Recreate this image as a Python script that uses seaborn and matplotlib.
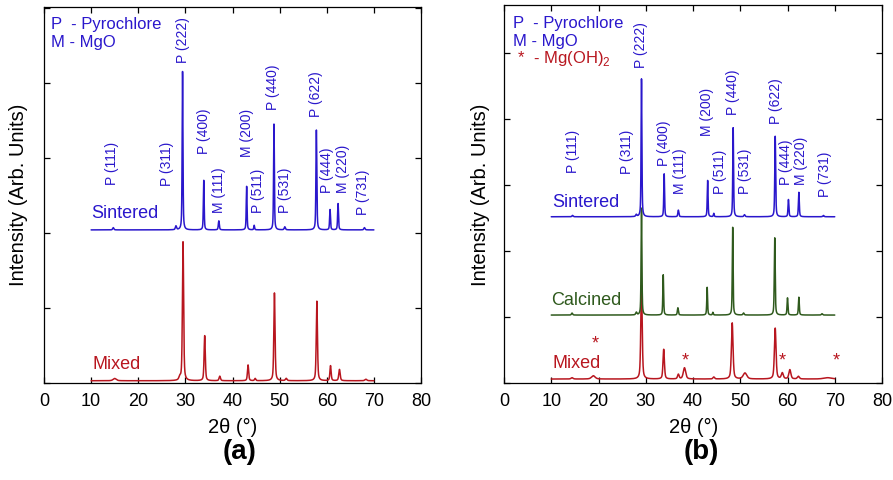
import numpy as np
import pandas as pd
import matplotlib
matplotlib.use("Agg")
import matplotlib.pyplot as plt
import seaborn as sns

# ---------------- data ----------------
two_theta_min, two_theta_max = 10, 70
x_ticks = [0, 10, 20, 30, 40, 50, 60, 70, 80]

# Panel (a) - Sintered
a_sint_base = 2.04
a_sint_pos = [14.7, 28.0, 29.4, 33.9, 37.1, 43.0, 44.6, 48.8, 51.1, 57.8, 60.7, 62.4, 68.0]
a_sint_hgt = [0.03, 0.05, 2.11, 0.66, 0.12, 0.58, 0.06, 1.41, 0.04, 1.33, 0.27, 0.35, 0.03]
a_sint_wid = [0.3, 0.3, 0.2, 0.2, 0.25, 0.2, 0.2, 0.2, 0.3, 0.22, 0.22, 0.22, 0.3]

# Panel (a) - Mixed
a_mix_base = 0.03
a_mix_pos = [15.0, 28.8, 29.5, 34.1, 37.3, 43.3, 44.8, 48.9, 51.4, 57.9, 60.8, 62.7, 68.3]
a_mix_hgt = [0.03, 0.04, 1.85, 0.60, 0.06, 0.21, 0.03, 1.17, 0.03, 1.06, 0.20, 0.15, 0.02]
a_mix_wid = [0.8, 0.4, 0.3, 0.3, 0.35, 0.3, 0.3, 0.3, 0.4, 0.3, 0.3, 0.35, 0.5]

# Panel (b) - Sintered
b_sint_base = 2.52
b_sint_pos = [14.5, 28.0, 29.1, 33.9, 36.9, 43.1, 44.4, 48.5, 50.9, 57.4, 60.2, 62.4, 67.6]
b_sint_hgt = [0.02, 0.03, 2.09, 0.65, 0.10, 0.55, 0.05, 1.35, 0.03, 1.22, 0.26, 0.37, 0.02]
b_sint_wid = [0.3, 0.3, 0.2, 0.2, 0.25, 0.2, 0.2, 0.2, 0.3, 0.22, 0.22, 0.22, 0.3]

# Panel (b) - Calcined
b_calc_base = 1.03
b_calc_pos = [14.4, 28.0, 29.1, 33.7, 36.8, 43.0, 44.2, 48.4, 50.7, 57.3, 60.0, 62.4, 67.3]
b_calc_hgt = [0.03, 0.04, 1.62, 0.61, 0.11, 0.42, 0.04, 1.33, 0.03, 1.17, 0.26, 0.27, 0.02]
b_calc_wid = [0.3, 0.3, 0.2, 0.2, 0.25, 0.2, 0.2, 0.2, 0.3, 0.22, 0.22, 0.22, 0.3]

# Panel (b) - Mixed
b_mix_base = 0.06
b_mix_pos = [14.4, 18.9, 29.1, 33.8, 36.9, 38.2, 44.4, 48.3, 51.0, 57.4, 58.9, 60.5, 62.3, 68.5]
b_mix_hgt = [0.02, 0.05, 1.42, 0.45, 0.07, 0.17, 0.03, 0.85, 0.09, 0.77, 0.09, 0.14, 0.04, 0.02]
b_mix_wid = [0.5, 0.9, 0.35, 0.35, 0.4, 0.6, 0.4, 0.4, 0.9, 0.4, 0.5, 0.5, 0.5, 2.0]

# Peak labels (hkl) : label, x position, y of label bottom
a_lab_text = ["P (111)", "P (311)", "P (222)", "P (400)", "M (111)", "M (200)", "P (511)",
              "P (440)", "P (531)", "P (622)", "P (444)", "M (220)", "P (731)"]
a_lab_x = [14.4, 26.0, 29.5, 33.9, 37.2, 43.0, 45.4, 48.5, 51.1, 57.8, 60.0, 63.5, 67.7]
a_lab_y = [2.64, 2.63, 4.26, 3.05, 2.27, 3.01, 2.27, 3.64, 2.27, 3.55, 2.53, 2.53, 2.24]

b_lab_text = a_lab_text
b_lab_x = [14.5, 26.0, 29.1, 33.9, 37.2, 43.0, 45.7, 48.5, 50.9, 57.5, 59.6, 62.9, 67.9]
b_lab_y = [3.18, 3.17, 4.77, 3.29, 2.87, 3.74, 2.87, 4.06, 2.87, 3.93, 3.00, 3.00, 2.82]

# Mg(OH)2 star markers in (b)
star_x = [19.4, 38.3, 58.9, 70.4]
star_y = [0.52, 0.26, 0.26, 0.26]

BLUE = "#2a17cc"
RED = "#b8161f"
GREEN = "#2f5a1d"

# ---------------- build patterns ----------------
tt = np.linspace(two_theta_min, two_theta_max, 6001)


def pattern(name, base, pos, hgt, wid):
    y = np.full_like(tt, base)
    for p, h, w in zip(pos, hgt, wid):
        d = (tt - p) / w
        y = y + h * (0.5 * np.exp(-4 * np.log(2) * d ** 2) + 0.5 / (1 + 4 * d ** 2))
    return pd.DataFrame({"two_theta": tt, "intensity": y, "sample": name})


df_a_sint = pattern("Sintered", a_sint_base, a_sint_pos, a_sint_hgt, a_sint_wid)
df_a_mix = pattern("Mixed", a_mix_base, a_mix_pos, a_mix_hgt, a_mix_wid)
df_b_sint = pattern("Sintered", b_sint_base, b_sint_pos, b_sint_hgt, b_sint_wid)
df_b_calc = pattern("Calcined", b_calc_base, b_calc_pos, b_calc_hgt, b_calc_wid)
df_b_mix = pattern("Mixed", b_mix_base, b_mix_pos, b_mix_hgt, b_mix_wid)

# ---------------- figure ----------------
sns.set_theme(style="ticks")
plt.rcParams["font.family"] = ["Liberation Sans", "DejaVu Sans"]
plt.rcParams["mathtext.fontset"] = "custom"
plt.rcParams["mathtext.rm"] = "Liberation Sans"
plt.rcParams["text.color"] = "black"
plt.rcParams["axes.labelcolor"] = "black"
plt.rcParams["xtick.color"] = "black"
plt.rcParams["ytick.color"] = "black"
plt.rcParams["axes.edgecolor"] = "black"

W, H = 893, 480
fig = plt.figure(figsize=(W / 100, H / 100), dpi=100)
fig.patch.set_facecolor("white")
axA = fig.add_axes([44 / W, 97 / H, 377 / W, 376 / H])
axB = fig.add_axes([504 / W, 97 / H, 378 / W, 378 / H])

lw = 1.1
sns.lineplot(data=df_a_mix, x="two_theta", y="intensity", ax=axA, color=RED, lw=lw,
             estimator=None, sort=False, legend=False)
sns.lineplot(data=df_a_sint, x="two_theta", y="intensity", ax=axA, color=BLUE, lw=lw,
             estimator=None, sort=False, legend=False)
sns.lineplot(data=df_b_mix, x="two_theta", y="intensity", ax=axB, color=RED, lw=lw,
             estimator=None, sort=False, legend=False)
sns.lineplot(data=df_b_calc, x="two_theta", y="intensity", ax=axB, color=GREEN, lw=lw,
             estimator=None, sort=False, legend=False)
sns.lineplot(data=df_b_sint, x="two_theta", y="intensity", ax=axB, color=BLUE, lw=lw,
             estimator=None, sort=False, legend=False)

for ax, ytop in ((axA, 5.01), (axB, 5.73)):
    ax.set_xlim(0, 80)
    ax.set_ylim(0, ytop)
    ax.set_xticks(x_ticks)
    ax.set_xticklabels([str(t) for t in x_ticks])
    ax.set_yticks(np.arange(0, int(ytop) + 1))
    ax.set_yticklabels([])
    ax.tick_params(direction="in", top=True, right=True, length=4.5, width=0.9,
                   labelsize=13, pad=7, colors="black")
    ax.tick_params(axis="y", labelleft=False)
    for s in ax.spines.values():
        s.set_visible(True)
        s.set_color("black")
        s.set_linewidth(0.9)
    ax.set_xlabel("")
    ax.set_ylabel("")
    ax.set_facecolor("white")
    ax.grid(False)

# peak labels
for t, x, y in zip(a_lab_text, a_lab_x, a_lab_y):
    axA.text(x, y, t, rotation=90, ha="center", va="bottom", fontsize=10, color=BLUE)
for t, x, y in zip(b_lab_text, b_lab_x, b_lab_y):
    axB.text(x, y, t, rotation=90, ha="center", va="bottom", fontsize=10, color=BLUE)

# stars
for x, y in zip(star_x, star_y):
    axB.text(x, y, "*", ha="center", va="baseline", fontsize=13, color=RED, clip_on=False)

# sample names
axA.text(10.1, 2.2, "Sintered", fontsize=13, color=BLUE, ha="left", va="baseline")
axA.text(10.2, 0.19, "Mixed", fontsize=13, color=RED, ha="left", va="baseline")
axB.text(10.2, 2.67, "Sintered", fontsize=13, color=BLUE, ha="left", va="baseline")
axB.text(9.95, 1.18, "Calcined", fontsize=13, color=GREEN, ha="left", va="baseline")
axB.text(10.2, 0.22, "Mixed", fontsize=13, color=RED, ha="left", va="baseline")

# phase key
axA.text(0.018, 0.9415, "P  - Pyrochlore", transform=axA.transAxes, fontsize=12,
         color=BLUE, va="baseline")
axA.text(0.018, 0.8944, "M - MgO", transform=axA.transAxes, fontsize=12,
         color=BLUE, va="baseline")
axB.text(0.024, 0.9384, "P  - Pyrochlore", transform=axB.transAxes, fontsize=12,
         color=BLUE, va="baseline")
axB.text(0.024, 0.8923, "M - MgO", transform=axB.transAxes, fontsize=12,
         color=BLUE, va="baseline")
axB.text(0.024, 0.8458, " *  - Mg(OH)$_2$", transform=axB.transAxes, fontsize=12,
         color=RED, va="baseline")

# axis labels and panel tags
for cx in (233, 694):
    fig.text(cx / W, 1 - 427 / H, "2θ (°)", fontsize=14.5, ha="center", va="center",
             color="black")
for cx in (19, 480):
    fig.text(cx / W, 1 - 195 / H, "Intensity (Arb. Units)", fontsize=14.5,
             rotation=90, ha="center", va="center", color="black")
fig.text(240 / W, 1 - 452 / H, "(a)", fontsize=20, fontweight="bold", ha="center",
         va="center", color="black")
fig.text(701 / W, 1 - 452 / H, "(b)", fontsize=20, fontweight="bold", ha="center",
         va="center", color="black")

fig.savefig("out.png", dpi=100, facecolor="white")
